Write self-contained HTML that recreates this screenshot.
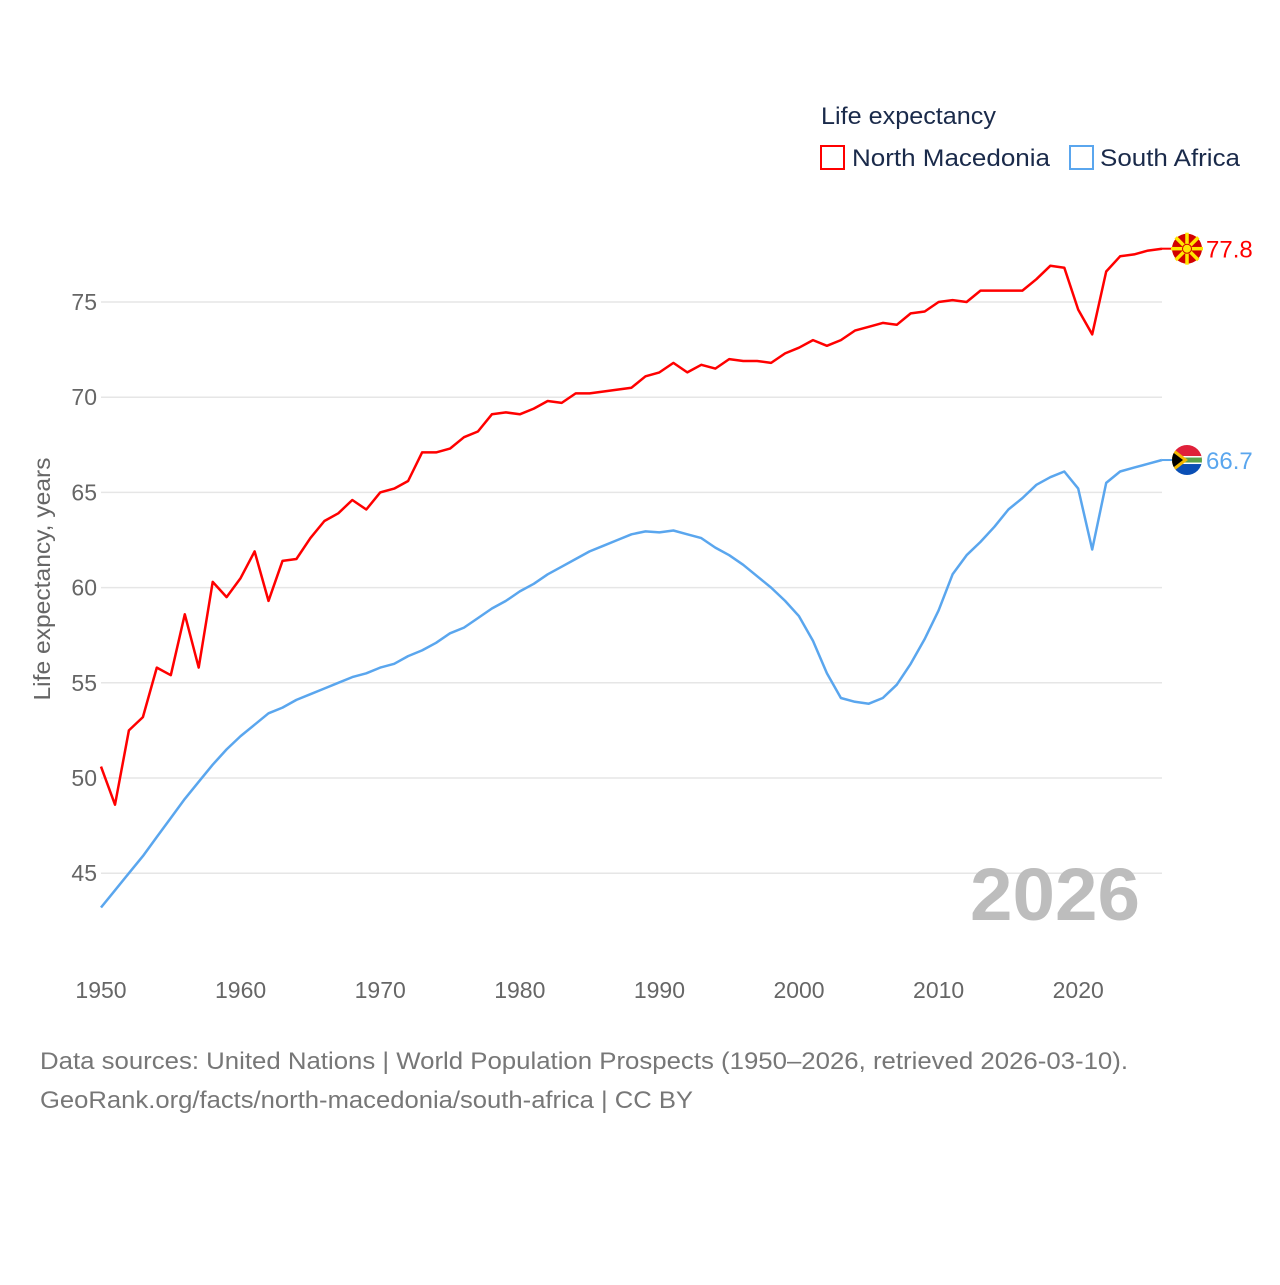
<!DOCTYPE html>
<html><head><meta charset="utf-8"><style>
body{margin:0;background:#fff;font-family:"Liberation Sans",sans-serif;}
svg text{font-family:"Liberation Sans",sans-serif;}
</style></head><body>
<svg id="chart" width="1280" height="1280" viewBox="0 0 1280 1280" xmlns="http://www.w3.org/2000/svg">
<rect width="1280" height="1280" fill="#fff"/>
<g id="grid"></g><g id="yticks"></g><g id="xticks"></g>
<text transform="translate(50,579) rotate(-90)" text-anchor="middle" font-size="23" fill="#666" textLength="243" lengthAdjust="spacingAndGlyphs">Life expectancy, years</text>
<text x="1140" y="920" text-anchor="end" font-size="74" font-weight="bold" fill="#bdbdbd" textLength="170" lengthAdjust="spacingAndGlyphs">2026</text>
<g id="series"></g>
<g>
<text x="821" y="124" font-size="24" fill="#1a2a4a" textLength="175" lengthAdjust="spacingAndGlyphs">Life expectancy</text>
<g><rect x="821" y="146" width="23" height="23" fill="none" stroke="#ff0000" stroke-width="2"/><text x="852" y="166" font-size="24" fill="#1a2a4a" textLength="198" lengthAdjust="spacingAndGlyphs">North Macedonia</text></g>
<g><rect x="1070" y="146" width="23" height="23" fill="none" stroke="#5aa6ee" stroke-width="2"/><text x="1100" y="166" font-size="24" fill="#1a2a4a" textLength="140" lengthAdjust="spacingAndGlyphs">South Africa</text></g>
</g>
<text x="40" y="1069" font-size="24" fill="#777" textLength="1088" lengthAdjust="spacingAndGlyphs">Data sources: United Nations | World Population Prospects (1950–2026, retrieved 2026-03-10).</text>
<text x="40" y="1108" font-size="24" fill="#777" textLength="653" lengthAdjust="spacingAndGlyphs">GeoRank.org/facts/north-macedonia/south-africa | CC BY</text>
</svg>
<script>
const years = [];
for (let y = 1950; y <= 2026; y++) years.push(y);
const northMacedonia = [50.6,48.6,52.5,53.2,55.8,55.4,58.6,55.8,60.3,59.5,60.5,61.9,59.3,61.4,61.5,62.6,63.5,63.9,64.6,64.1,65.0,65.2,65.6,67.1,67.1,67.3,67.9,68.2,69.1,69.2,69.1,69.4,69.8,69.7,70.2,70.2,70.3,70.4,70.5,71.1,71.3,71.8,71.3,71.7,71.5,72.0,71.9,71.9,71.8,72.3,72.6,73.0,72.7,73.0,73.5,73.7,73.9,73.8,74.4,74.5,75.0,75.1,75.0,75.6,75.6,75.6,75.6,76.2,76.9,76.8,74.6,73.3,76.6,77.4,77.5,77.7,77.8];
const southAfrica = [43.2,44.1,45.0,45.9,46.9,47.9,48.9,49.8,50.7,51.5,52.2,52.8,53.4,53.7,54.1,54.4,54.7,55.0,55.3,55.5,55.8,56.0,56.4,56.7,57.1,57.6,57.9,58.4,58.9,59.3,59.8,60.2,60.7,61.1,61.5,61.9,62.2,62.5,62.8,62.95,62.9,63.0,62.8,62.6,62.1,61.7,61.2,60.6,60.0,59.3,58.5,57.2,55.5,54.2,54.0,53.9,54.2,54.9,56.0,57.3,58.8,60.7,61.7,62.4,63.2,64.1,64.7,65.4,65.8,66.1,65.2,62.0,65.5,66.1,66.3,66.5,66.7];
const yTicks = [45,50,55,60,65,70,75];
const xTicks = [1950,1960,1970,1980,1990,2000,2010,2020];
const NS = "http://www.w3.org/2000/svg";
const xs = y => 101 + (y - 1950) * (1162 - 101) / 76;
const ys = v => 302 + (75 - v) * 19.04;
function mk(tag, attrs, parent){const e=document.createElementNS(NS,tag);for(const k in attrs)e.setAttribute(k,attrs[k]);parent.appendChild(e);return e;}
const grid=document.getElementById('grid'), yt=document.getElementById('yticks'), xt=document.getElementById('xticks'), ser=document.getElementById('series');
yTicks.forEach(t=>{
  const l=mk('line',{x1:101,x2:1162,y1:ys(t),y2:ys(t),stroke:'#e6e6e6','stroke-width':1.5},grid);
  
  
  const tx=mk('text',{x:97,y:ys(t)+8,'text-anchor':'end','font-size':23,fill:'#666'},yt);
  tx.textContent=t;
  
  
});
xTicks.forEach(t=>{
  const tx=mk('text',{x:xs(t),y:998,'text-anchor':'middle','font-size':23,fill:'#666'},xt);
  tx.textContent=t;
  
  
});
function line(vals,color,name){
  const d=vals.map((v,i)=>(i?'L':'M')+xs(years[i]).toFixed(1)+','+ys(v).toFixed(1)).join('');
  const p=mk('path',{d:d,fill:'none',stroke:color,'stroke-width':2.5,'stroke-linejoin':'round'},ser);
  
  
  const last=vals[vals.length-1], ly=ys(last);
  mk('line',{x1:1162,x2:1175,y1:ly,y2:ly,stroke:color,'stroke-width':2},ser);
  return ly;
}
const ly1=line(northMacedonia,'#ff0000','line-north-macedonia');
const ly2=line(southAfrica,'#5aa6ee','line-south-africa');
const f1=mk('g',{},ser);


mk('circle',{cx:1187,cy:ly1,r:15,fill:'#d20000'},f1);
for(let a=0;a<8;a++){const an=a*Math.PI/4;mk('line',{x1:1187,y1:ly1,x2:1187+16*Math.cos(an),y2:ly1+16*Math.sin(an),stroke:'#ffe600','stroke-width':3.5},f1);}
mk('circle',{cx:1187,cy:ly1,r:4.5,fill:'#ffe600',stroke:'#d20000','stroke-width':1},f1);
const f2=mk('g',{},ser);


mk('clipPath',{id:'zc'},f2);
mk('circle',{cx:1187,cy:ly2,r:15},document.getElementById('zc'));
const g2=mk('g',{'clip-path':'url(#zc)'},f2);
mk('rect',{x:1170,y:ly2-16,width:34,height:16,fill:'#e0203a'},g2);
mk('rect',{x:1170,y:ly2,width:34,height:16,fill:'#0a4fb5'},g2);
mk('rect',{x:1170,y:ly2-4,width:34,height:8,fill:'#fff'},g2);
mk('rect',{x:1170,y:ly2-2.5,width:34,height:5,fill:'#5aa24a'},g2);
mk('polygon',{points:`1170,${ly2-14} 1188,${ly2} 1170,${ly2+14}`,fill:'#f2b800'},g2);
mk('polygon',{points:`1170,${ly2-10} 1183,${ly2} 1170,${ly2+10}`,fill:'#000'},g2);
const v1=mk('text',{x:1206,y:ly1+9,'font-size':24,fill:'#ff0000'},ser);
v1.textContent=northMacedonia[northMacedonia.length-1].toFixed(1);


const v2=mk('text',{x:1206,y:ly2+9,'font-size':24,fill:'#5aa6ee'},ser);
v2.textContent=southAfrica[southAfrica.length-1].toFixed(1);


</script>
</body></html>
